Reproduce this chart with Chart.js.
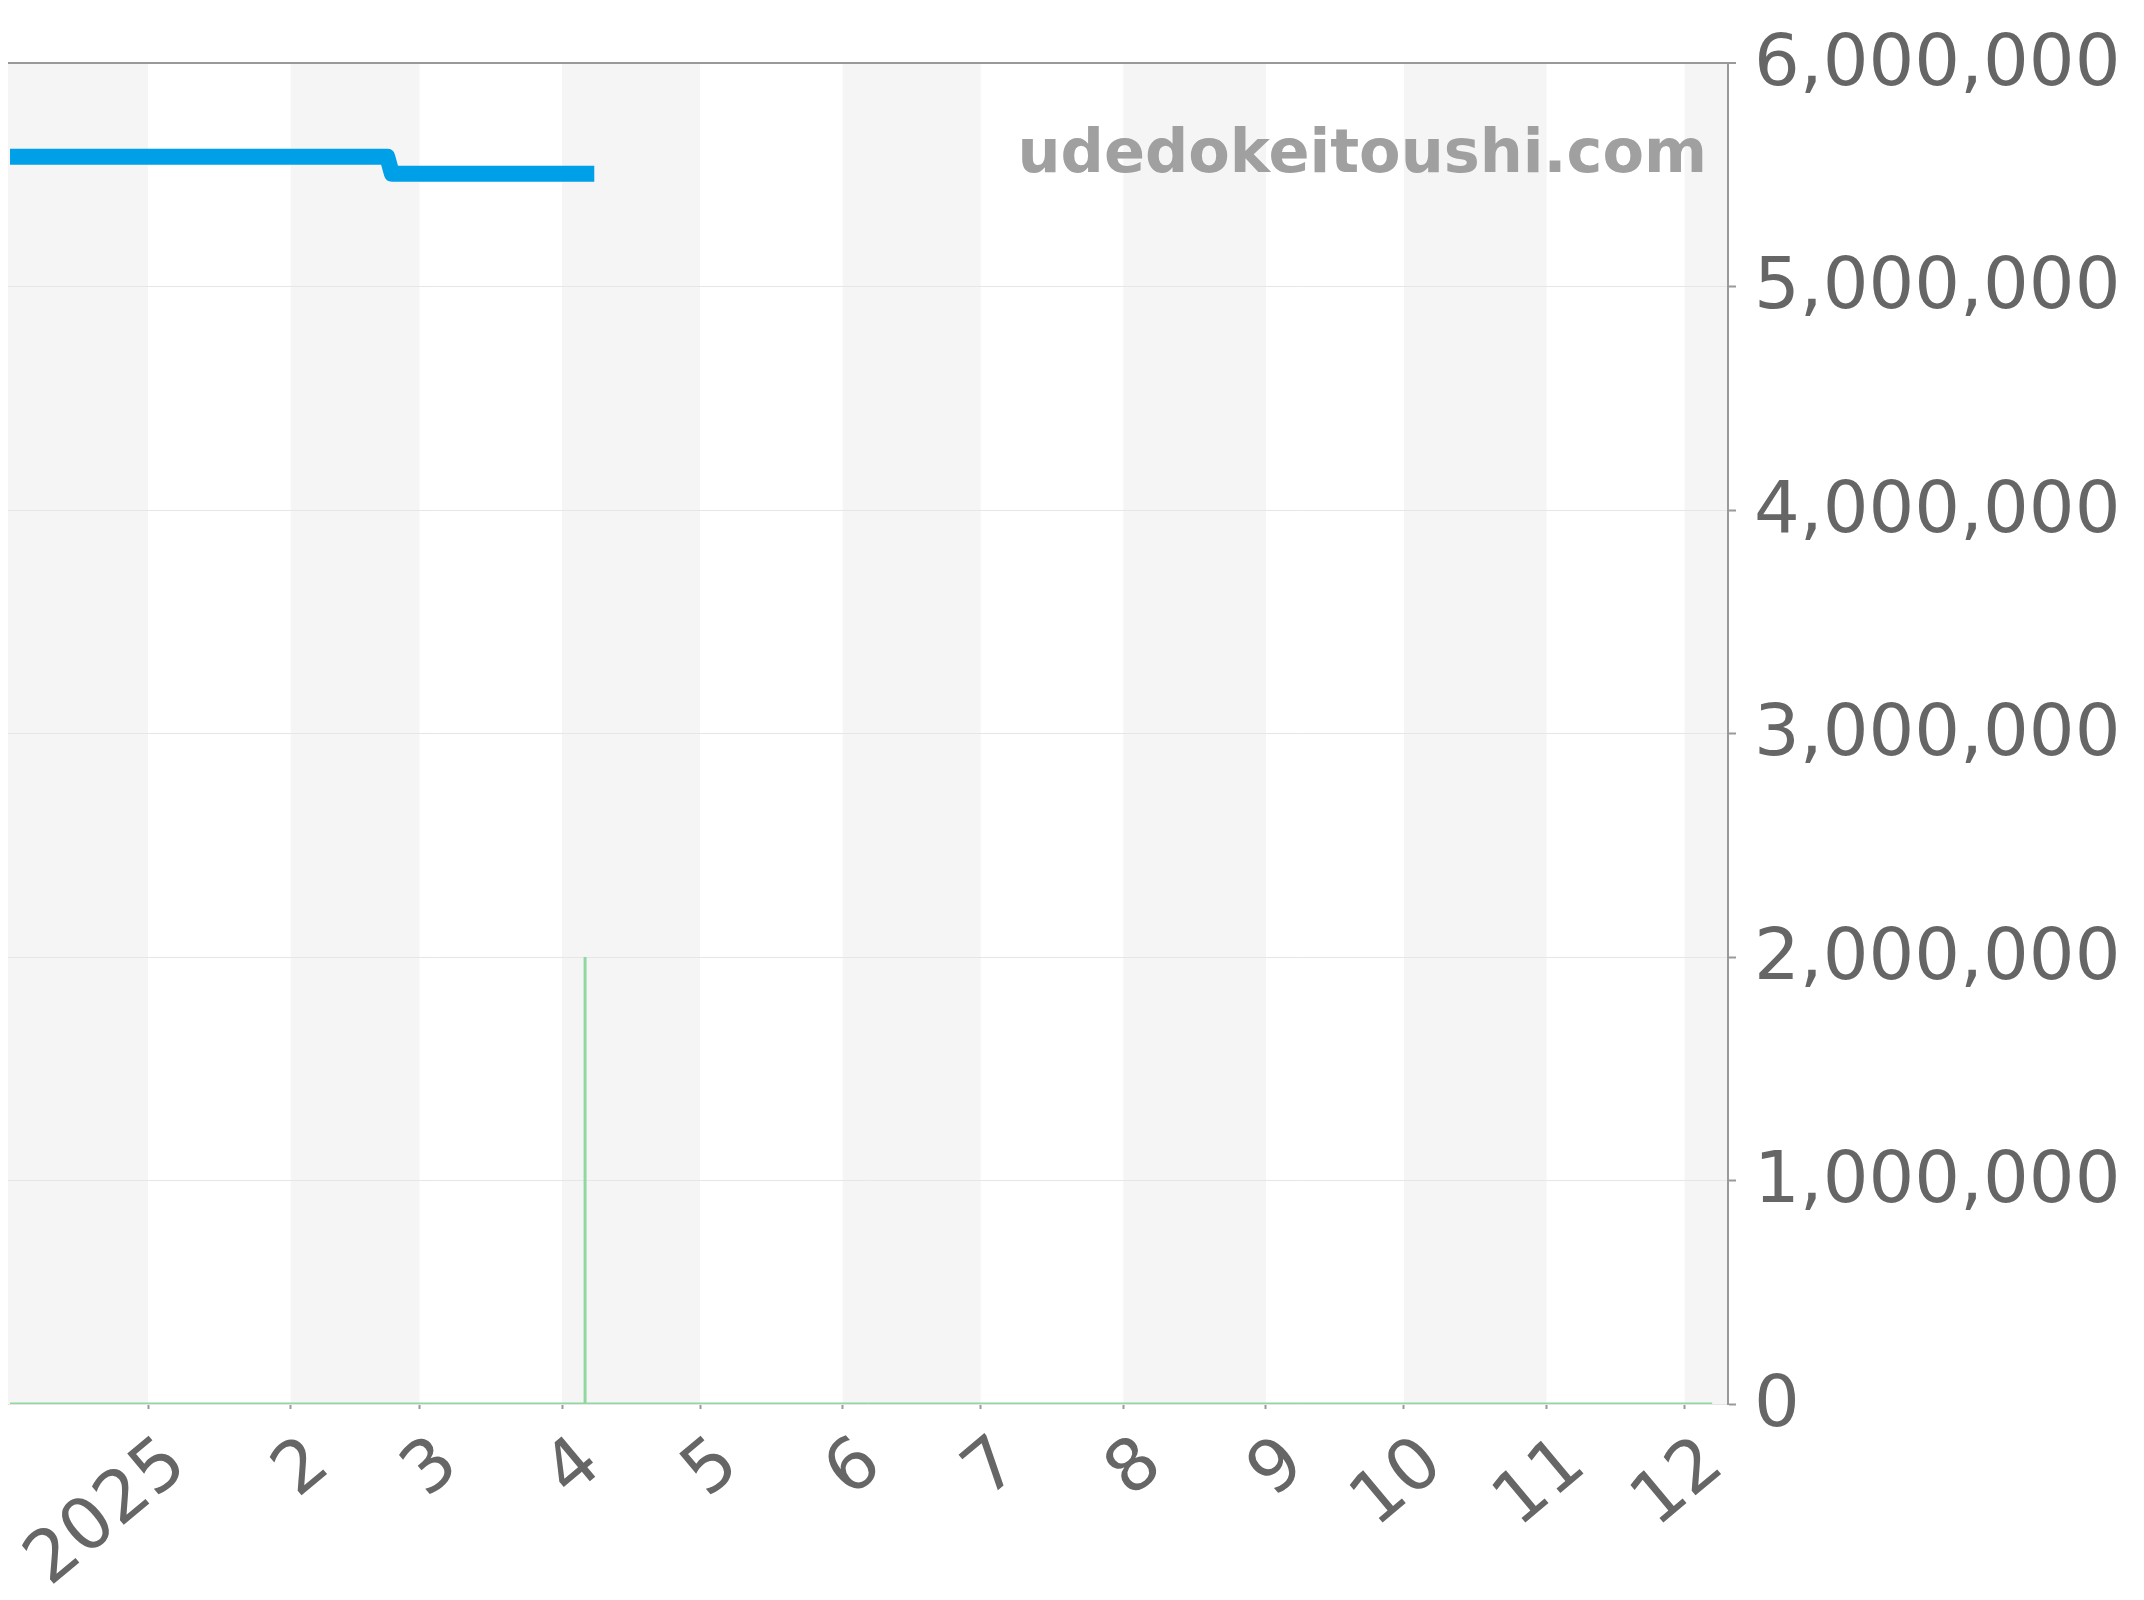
<!DOCTYPE html>
<html>
<head>
<meta charset="utf-8">
<script src="https://cdn.jsdelivr.net/npm/chart.js@4.4.1/dist/chart.umd.min.js"></script>
<style>
  html, body { margin: 0; padding: 0; background: #ffffff; }
  #c { display: block; }
</style>
</head>
<body>
<canvas id="c" width="2144" height="1600"></canvas>
<script>
// ---- data ----
const blueDates  = ['2024-12-02', '2025-02-22', '2025-02-23', '2025-04-08'];
const blueValues = [5580000, 5580000, 5505000, 5505000];

const greenDates  = ['2024-12-02', '2025-04-06', '2025-04-06', '2025-04-06', '2025-12-07'];
const greenValues = [0, 0, 2000000, 0, 0];

const xTickDates  = ['2025-01-01', '2025-02-01', '2025-03-01', '2025-04-01', '2025-05-01', '2025-06-01',
                     '2025-07-01', '2025-08-01', '2025-09-01', '2025-10-01', '2025-11-01', '2025-12-01'];
const xTickLabels = ['2025', '2', '3', '4', '5', '6', '7', '8', '9', '10', '11', '12'];

const bandEdges = ['2024-12-01', '2025-01-01', '2025-02-01', '2025-03-01', '2025-04-01', '2025-05-01',
                   '2025-06-01', '2025-07-01', '2025-08-01', '2025-09-01', '2025-10-01', '2025-11-01',
                   '2025-12-01', '2026-01-01'];

const xRange = ['2024-12-01T13:30:00Z', '2025-12-10T10:30:00Z'];
const yTicks = [0, 1000000, 2000000, 3000000, 4000000, 5000000, 6000000];
const watermarkText = 'udedokeitoushi.com';

// ---- helpers ----
const toMs = d => Date.parse(d);
const pts = (dates, vals) => dates.map((d, i) => ({ x: toMs(d), y: vals[i] }));

const bandsPlugin = {
  id: 'bands',
  beforeDraw(chart) {
    const { ctx, chartArea: a, scales: { x } } = chart;
    ctx.save();
    ctx.beginPath();
    ctx.rect(a.left, a.top, a.right - a.left, a.bottom - a.top);
    ctx.clip();
    ctx.fillStyle = '#f5f5f5';
    for (let i = 0; i < bandEdges.length - 1; i += 2) {
      const x0 = x.getPixelForValue(toMs(bandEdges[i]));
      const x1 = x.getPixelForValue(toMs(bandEdges[i + 1]));
      ctx.fillRect(x0, a.top, x1 - x0, a.bottom - a.top);
    }
    ctx.restore();
  }
};

const watermarkPlugin = {
  id: 'watermark',
  beforeDatasetsDraw(chart) {
    const { ctx, chartArea: a } = chart;
    ctx.save();
    ctx.font = 'bold 60.5px "DejaVu Sans"';
    ctx.fillStyle = '#a0a0a0';
    ctx.textAlign = 'right';
    ctx.textBaseline = 'alphabetic';
    ctx.fillText(watermarkText, a.right - 21, a.top + 109);
    ctx.restore();
  }
};

const font72 = { family: '"DejaVu Sans"', size: 72 };

new Chart(document.getElementById('c'), {
  type: 'line',
  data: {
    datasets: [
      {
        data: pts(greenDates, greenValues),
        borderColor: '#90d8a0',
        borderWidth: 3,
        pointRadius: 0,
        tension: 0,
        fill: false,
        clip: 0
      },
      {
        data: pts(blueDates, blueValues),
        borderColor: '#00a0e9',
        borderWidth: 16,
        borderJoinStyle: 'round',
        borderCapStyle: 'butt',
        pointRadius: 0,
        tension: 0,
        fill: false
      }
    ]
  },
  options: {
    responsive: false,
    animation: false,
    locale: 'en-US',
    layout: { padding: { top: 63, left: 8, right: 0, bottom: 0 } },
    plugins: { legend: { display: false }, tooltip: { enabled: false } },
    scales: {
      x: {
        type: 'linear',
        min: toMs(xRange[0]),
        max: toMs(xRange[1]),
        afterBuildTicks: s => { s.ticks = xTickDates.map(d => ({ value: toMs(d) })); },
        afterFit: s => { s.height = 196; s.paddingLeft = 0; s.paddingRight = 0; },
        ticks: {
          autoSkip: false,
          minRotation: 40,
          maxRotation: 40,
          padding: 13,
          labelOffset: 30,
          color: '#666666',
          font: font72,
          callback: (v, i) => xTickLabels[i]
        },
        grid: { drawOnChartArea: false, drawTicks: true, tickLength: 5, tickColor: '#999999', tickWidth: 2 },
        border: { display: false }
      },
      y: {
        position: 'right',
        min: 0,
        max: 6000000,
        afterBuildTicks: s => { s.ticks = yTicks.map(v => ({ value: v })); },
        afterFit: s => { s.width = 416; s.paddingTop = 0; s.paddingBottom = 0; },
        ticks: {
          padding: 18,
          labelOffset: 3,
          color: '#666666',
          font: font72,
          callback: v => Number(v).toLocaleString('en-US')
        },
        grid: {
          color: c => (c.tick && c.tick.value === 6000000) ? '#999999' : '#e6e6e6',
          lineWidth: c => (c.tick && c.tick.value === 6000000) ? 2 : 1,
          tickLength: 8,
          tickColor: '#999999',
          tickWidth: 2
        },
        border: { display: true, color: '#999999', width: 2 }
      }
    }
  },
  plugins: [bandsPlugin, watermarkPlugin]
});
</script>
</body>
</html>
